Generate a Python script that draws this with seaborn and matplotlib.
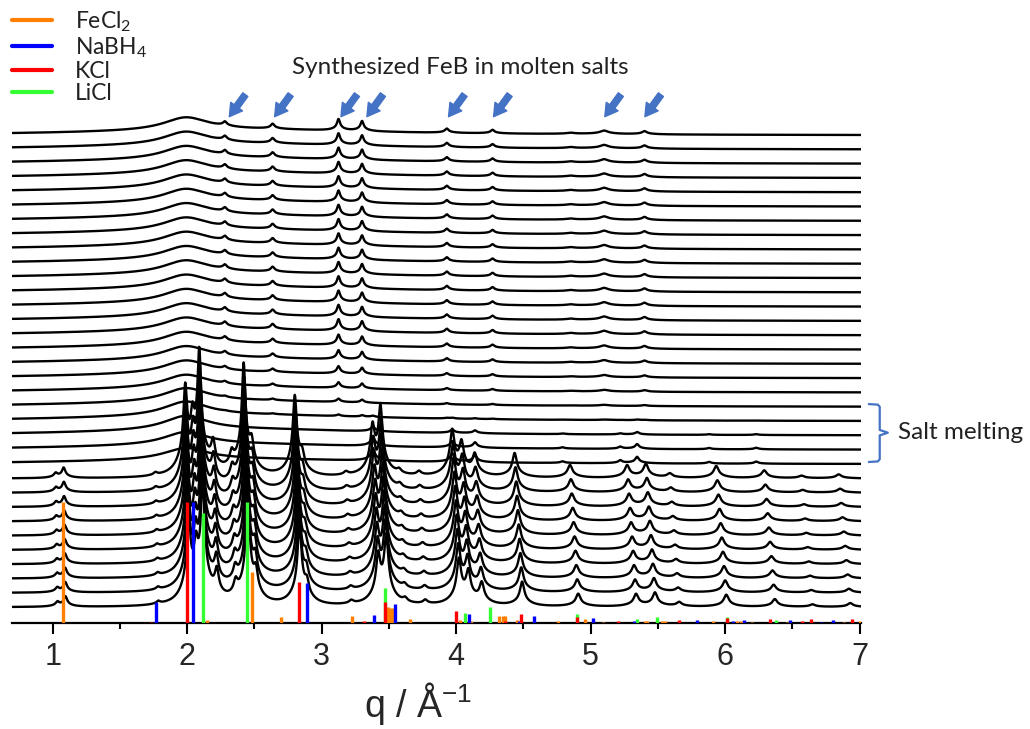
import numpy as np
import pandas as pd
import matplotlib
matplotlib.use("Agg")
import matplotlib.pyplot as plt
import seaborn as sns
from matplotlib.lines import Line2D
from matplotlib.ticker import MultipleLocator

# reference sticks: q (1/A) and height (in units of the scan spacing)
fecl2_q = [1.074, 2.15, 2.48, 2.70, 3.225, 3.49, 3.51, 3.53, 3.66, 4.03, 4.11, 4.32, 4.345,
           4.36, 4.45, 4.76, 4.96, 5.095, 5.40, 5.42, 5.53, 5.55, 5.91, 6.09, 6.12, 6.20,
           6.46, 6.88, 7.00]
fecl2_h = [8.46, 0.2, 3.6, 0.42, 0.5, 1.1, 1.05, 1.05, 0.3, 0.2, 0.15, 0.5, 0.5,
           0.5, 0.2, 0.15, 0.3, 0.1, 0.15, 0.15, 0.15, 0.15, 0.15, 0.15, 0.15, 0.1,
           0.1, 0.1, 0.15]
nabh4_q = [1.77, 2.046, 2.89, 3.39, 3.547, 4.095, 4.47, 4.576, 5.02, 5.32, 5.79, 6.06,
           6.14, 6.48, 6.71, 6.80]
nabh4_h = [1.47, 8.46, 2.8, 0.56, 1.33, 0.63, 0.15, 0.5, 0.35, 0.15, 0.2, 0.15,
           0.2, 0.2, 0.1, 0.2]
kcl_q = [1.73, 2.00, 2.83, 3.316, 3.467, 4.00, 4.365, 4.48, 4.90, 5.20, 5.66, 6.01,
         6.33, 6.57, 6.64, 6.94]
kcl_h = [0.1, 8.46, 2.87, 0.15, 1.47, 0.84, 0.15, 0.63, 0.42, 0.15, 0.2, 0.35,
         0.3, 0.15, 0.3, 0.3]
licl_q = [2.12, 2.448, 3.467, 4.068, 4.25, 4.90, 5.345, 5.49, 6.01, 6.38]
licl_h = [7.7, 8.46, 2.45, 0.7, 1.1, 0.63, 0.3, 0.42, 0.42, 0.2]

# peaks of the salt mixture (first scan), the residue while melting, FeB, liquid halo
crystal_q = [1.035, 1.095, 1.785, 2.01, 2.065, 2.116, 2.22, 2.36, 2.45, 2.51, 2.835, 2.89,
             3.22, 3.42, 3.48, 3.62, 3.77, 4.02, 4.09, 4.19, 4.49, 4.907, 5.337, 5.478,
             5.658, 6.008, 6.369, 6.649, 6.93]
crystal_h = [0.3, 0.7, 0.2, 5.5, 2.5, 8.0, 1.8, 1.0, 7.5, 1.6, 5.5, 1.0,
             0.25, 3.0, 4.5, 0.3, 0.3, 3.0, 2.0, 1.4, 1.7, 0.9, 0.85, 0.95,
             0.3, 0.85, 0.55, 0.18, 0.28]
crystal_w = [0.014, 0.014, 0.014, 0.015, 0.015, 0.015, 0.016, 0.016, 0.015, 0.016, 0.016, 0.016,
             0.017, 0.017, 0.017, 0.017, 0.017, 0.018, 0.018, 0.018, 0.018, 0.019, 0.019, 0.019,
             0.02, 0.02, 0.02, 0.021, 0.021]
residual_q = [3.38, 3.97, 4.14, 4.79, 5.22, 5.345, 5.88, 6.23]
residual_h = [0.9, 0.6, 0.5, 0.12, 0.2, 0.45, 0.12, 0.15]
feb_q = [2.28, 2.635, 3.125, 3.30, 3.93, 4.27, 4.85, 5.10, 5.40]
feb_h = [0.3, 0.35, 0.8, 0.7, 0.3, 0.25, 0.08, 0.25, 0.22]
feb_w = [0.015, 0.015, 0.013, 0.013, 0.015, 0.015, 0.03, 0.035, 0.02]
halo_q = [1.99, 2.4]
halo_h = [0.9, 0.4]
halo_w = [0.2, 1.3]

# per scan (bottom to top): lattice factor and phase amounts
lattice = [1.0, 0.9986, 0.9972, 0.9959, 0.9945, 0.9931, 0.9917, 0.9903, 0.9890, 0.9876,
           0.986, 0.985, 0.985, 0.985, 0.985, 0.985, 0.985, 0.985, 0.985, 0.985,
           0.985, 0.985, 0.985, 0.985, 0.985, 0.985, 0.985, 0.985, 0.985, 0.985,
           0.985, 0.985, 0.985, 0.985]
crystal_amp = [1, 1, 1, 1, 1, 1, 1, 1, 1, 1,
               0, 0, 0, 0, 0, 0, 0, 0, 0, 0, 0, 0, 0, 0, 0, 0, 0, 0, 0, 0, 0, 0, 0, 0]
residual_amp = [0, 0, 0, 0, 0, 0, 0, 0, 0, 0,
                1.0, 0.75, 0.4, 0.1, 0, 0, 0, 0, 0, 0, 0, 0, 0, 0, 0, 0, 0, 0, 0, 0, 0, 0, 0, 0]
feb_amp = [0, 0, 0, 0, 0, 0, 0, 0, 0, 0, 0, 0, 0,
           0.15, 0.3, 0.5, 0.65, 0.8, 0.9, 1, 1, 1, 1, 1, 1, 1, 1, 1, 1, 1, 1, 1, 1, 1]
halo_amp = [0, 0, 0, 0, 0, 0, 0, 0, 0, 0,
            0.9, 1.0, 1.1, 1.1, 1.05, 1, 1, 1, 1, 1, 1, 1, 1, 1, 1, 1, 1, 1, 1, 1, 1, 1, 1, 1]
n_scans = len(lattice)

arrow_q = [2.313, 2.65, 3.143, 3.336, 3.943, 4.278, 5.105, 5.403]


def lorentz(q, c, h, w):
    return h / (1 + ((q - c) / w) ** 2)


def peak(q, c, h, w):
    # sharp core plus a broad foot
    return 0.75 * lorentz(q, c, h, w) + 0.25 * lorentz(q, c, h, 4 * w)


q = np.linspace(0.70, 7.01, 3000)
frames = []
for i in range(n_scans):
    y = np.full_like(q, 1.1 + i)
    for c, h, w in zip(crystal_q, crystal_h, crystal_w):
        y += crystal_amp[i] * peak(q, c * lattice[i], h, w)
    for c, h in zip(residual_q, residual_h):
        y += residual_amp[i] * peak(q, c, h, 0.015)
    for c, h, w in zip(feb_q, feb_h, feb_w):
        y += feb_amp[i] * peak(q, c, h, w)
    for c, h, w in zip(halo_q, halo_h, halo_w):
        y += halo_amp[i] * lorentz(q, c, h, w)
    frames.append(pd.DataFrame({"scan": i, "q": q, "intensity": y}))
df = pd.concat(frames, ignore_index=True)

sns.set_style("ticks")
plt.rcParams["font.family"] = ["Lato", "DejaVu Sans"]
plt.rcParams["mathtext.fontset"] = "custom"
plt.rcParams["mathtext.rm"] = "Lato"

fig = plt.figure(figsize=(10.30, 7.29), dpi=100)
ax = fig.add_axes([0.01136, 0.1454, 0.8246, 0.8546])

sns.lineplot(data=df, x="q", y="intensity", units="scan", estimator=None, sort=False,
             color="black", linewidth=1.7, legend=False, ax=ax)

orange, blue, red, green = "#FF8000", "#0000FF", "#FF0000", "#33FF33"
for qs, hs, col in [(licl_q, licl_h, green), (fecl2_q, fecl2_h, orange),
                    (nabh4_q, nabh4_h, blue), (kcl_q, kcl_h, red)]:
    ax.vlines(qs, 0, hs, colors=col, lw=2.4, zorder=3)

ax.set_xlim(0.695, 7.01)
ax.set_ylim(0, 43.57)
ax.set_yticks([])
ax.set_ylabel("")
ax.xaxis.set_major_locator(MultipleLocator(1))
ax.xaxis.set_minor_locator(MultipleLocator(0.5))
for s in ["left", "top", "right"]:
    ax.spines[s].set_visible(False)
ax.spines["bottom"].set_linewidth(1.6)
ax.spines["bottom"].set_color("black")
ax.tick_params(axis="x", which="major", direction="out", length=8, width=1.5,
               labelsize=22, pad=6, labelfontfamily="Liberation Sans", color="black")
ax.tick_params(axis="x", which="minor", direction="out", length=4, width=1.5, color="black")
ax.set_xlabel("q / Å$^{\\mathregular{-1}}$", fontsize=27, family="Liberation Sans")
ax.xaxis.set_label_coords(0.478, -0.092)

# arrows marking FeB reflections
blue_note = "#4472C4"
for qa in arrow_q:
    ax.annotate("", xy=(qa, 35.41), xytext=(qa + 0.119, 36.95),
                arrowprops=dict(arrowstyle="simple,head_length=0.6,head_width=0.7,tail_width=0.3",
                                color=blue_note, shrinkA=0, shrinkB=0, mutation_scale=15))
ax.text(4.03, 38.85, "Synthesized FeB in molten salts", ha="center", va="center",
        fontsize=17.5, color="#222222")

# brace for the melting range
ax.plot([7.068, 7.135, 7.149, 7.149, 7.209, 7.149, 7.149, 7.135, 7.068],
        [15.31, 15.27, 15.12, 13.5, 13.31, 13.12, 11.45, 11.3, 11.26],
        color=blue_note, lw=1.6, clip_on=False)
ax.text(7.282, 13.29, "Salt melting", ha="left", va="center", fontsize=17.5, color="#222222")

handles = [Line2D([], [], color=c, lw=3) for c in [orange, blue, red, green]]
labels = ["FeCl$_{\\mathregular{2}}$", "NaBH$_{\\mathregular{4}}$", "KCl", "LiCl"]
fig.legend(handles, labels, loc="upper left", bbox_to_anchor=(12 / 1030, 1 - 9 / 729),
           frameon=False, fontsize=16.5, handlelength=1.75, handletextpad=1.0,
           labelspacing=0.05, borderpad=0, borderaxespad=0, labelcolor="#222222")

fig.savefig("out.png", dpi=100)
